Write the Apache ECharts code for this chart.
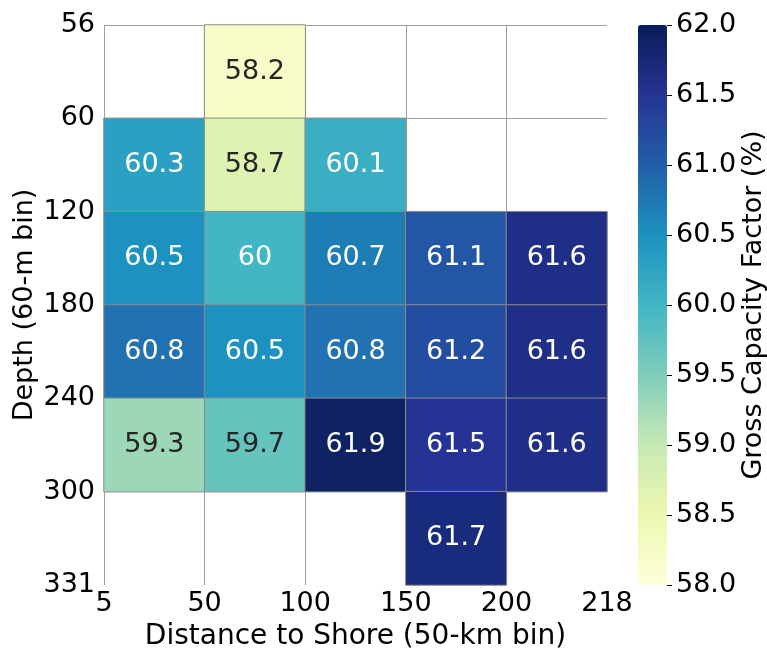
<!DOCTYPE html>
<html>
<head>
<meta charset="utf-8">
<script src="https://cdn.jsdelivr.net/npm/echarts@6/dist/echarts.min.js"></script>
<style>
  html, body { margin: 0; padding: 0; background: #ffffff; }
  #chart { width: 767px; height: 649px; }
</style>
</head>
<body>
<div id="chart"></div>
<script>
// Bin edges shown as tick labels
const xTickLabels = ['5', '50', '100', '150', '200', '218'];
const yTickLabels = ['56', '60', '120', '180', '240', '300', '331'];

// Bin names (one per cell column / row)
const distanceBins = ['5-50', '50-100', '100-150', '150-200', '200-218'];
const depthBins = ['56-60', '60-120', '120-180', '180-240', '240-300', '300-331'];

// Gross capacity factor (%) per depth row, one entry per distance bin; null = no data
const row56 = [null, 58.2, null, null, null];
const row60 = [60.3, 58.7, 60.1, null, null];
const row120 = [60.5, 60, 60.7, 61.1, 61.6];
const row180 = [60.8, 60.5, 60.8, 61.2, 61.6];
const row240 = [59.3, 59.7, 61.9, 61.5, 61.6];
const row300 = [null, null, null, 61.7, null];
const rows = [row56, row60, row120, row180, row240, row300];

// Colour scale range
const cMin = 58.0;
const cMax = 62.0;

const FONT = 'DejaVu Sans';
const FS = 27;
const ylgnbu = ['#ffffd9', '#edf8b1', '#c7e9b4', '#7fcdbb', '#41b6c4',
                '#1d91c0', '#225ea8', '#253494', '#081d58'];

const data = [];
rows.forEach((row, r) => {
  row.forEach((v, c) => {
    if (v === null) return;
    data.push({
      value: [c, r, v],
      label: { color: v < 59.9 ? '#262626' : '#ffffff' }
    });
  });
});

const G = { left: 104, top: 25, width: 503, height: 560 };
const BAR = { left: 638, width: 29 };

const chart = echarts.init(document.getElementById('chart'));
chart.setOption({
  animation: false,
  backgroundColor: '#ffffff',
  textStyle: { fontFamily: FONT },
  grid: [
    { left: G.left, top: G.top, width: G.width, height: G.height,
      containLabel: false, outerBoundsMode: 'none' },
    // strip starting at the right edge of the colour bar, carrying its tick axis
    { left: BAR.left + BAR.width, top: G.top, width: 60, height: G.height,
      containLabel: false, outerBoundsMode: 'none' }
  ],
  xAxis: [
    { // cell placement
      type: 'category', data: distanceBins, gridIndex: 0, show: false
    },
    { // bin-edge ticks and grid lines
      type: 'value', gridIndex: 0, min: 0, max: xTickLabels.length - 1, interval: 1,
      position: 'bottom',
      axisLine: { show: false }, axisTick: { show: false },
      axisLabel: {
        fontFamily: FONT, fontSize: FS, color: '#000', margin: 5,
        formatter: v => xTickLabels[v]
      },
      splitLine: { show: true, showMaxLine: false, lineStyle: { color: '#a0a0a0', width: 1 } },
      name: 'Distance to Shore (50-km bin)', nameLocation: 'middle', nameGap: 38,
      nameMoveOverlap: false,
      nameTextStyle: { fontFamily: FONT, fontSize: 28, color: '#000' }
    },
    { type: 'value', gridIndex: 1, show: false, min: 0, max: 1 }
  ],
  yAxis: [
    {
      type: 'category', data: depthBins, gridIndex: 0, inverse: true, show: false
    },
    {
      type: 'value', gridIndex: 0, min: 0, max: yTickLabels.length - 1, interval: 1,
      inverse: true, position: 'left',
      axisLine: { show: false }, axisTick: { show: false },
      axisLabel: {
        fontFamily: FONT, fontSize: FS, color: '#000', margin: 9,
        formatter: v => yTickLabels[v]
      },
      splitLine: { show: true, showMaxLine: false, lineStyle: { color: '#a0a0a0', width: 1 } },
      name: 'Depth (60-m bin)', nameLocation: 'middle', nameGap: 66, nameRotate: 90,
      nameMoveOverlap: false,
      nameTextStyle: { fontFamily: FONT, fontSize: FS, color: '#000' }
    },
    { // colour bar ticks, drawn to the right of the bar
      type: 'value', gridIndex: 1, min: cMin, max: cMax, interval: 0.5,
      position: 'left',
      axisLine: { show: true, lineStyle: { color: 'rgba(0,0,0,0)' } },
      axisTick: { show: true, inside: true, length: 5, lineStyle: { color: '#000', width: 1 } },
      axisLabel: {
        inside: true,
        fontFamily: FONT, fontSize: FS, color: '#000', margin: 9,
        formatter: v => v.toFixed(1)
      },
      splitLine: { show: false },
      name: 'Gross Capacity Factor (%)', nameLocation: 'middle', nameGap: -100, nameRotate: 90,
      nameMoveOverlap: false,
      nameTextStyle: { fontFamily: FONT, fontSize: FS, color: '#000' }
    }
  ],
  visualMap: {
    type: 'continuous', min: cMin, max: cMax, calculable: false,
    seriesIndex: 0, orient: 'vertical',
    left: BAR.left, top: G.top, padding: 0,
    itemWidth: BAR.width, itemHeight: G.height,
    text: null, showLabel: false,
    inRange: { color: ylgnbu }
  },
  series: [{
    type: 'heatmap',
    xAxisIndex: 0, yAxisIndex: 0,
    data: data,
    itemStyle: { borderColor: '#8c8c8c', borderWidth: 1 },
    label: {
      show: true, fontFamily: FONT, fontSize: FS,
      formatter: p => String(p.value[2])
    },
    emphasis: { disabled: true }
  }]
});
</script>
</body>
</html>
